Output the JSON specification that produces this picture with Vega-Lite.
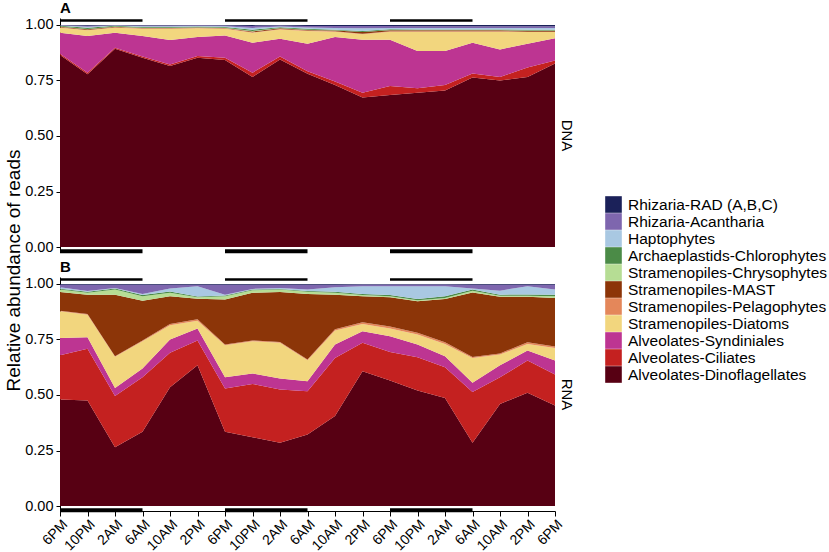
{
  "$schema": "https://vega.github.io/schema/vega-lite/v6.json",
  "padding": {"left": 4, "top": 0, "right": 2, "bottom": 0},
  "spacing": 25,
  "bounds": "flush",
  "config": {
    "font": "Liberation Sans",
    "view": {"stroke": null},
    "axis": {"grid": false, "labelColor": "black", "labelFontSize": 14.5, "labelPadding": 3, "tickColor": "black", "domainColor": "black", "titleColor": "black", "titleFontWeight": "normal", "titleFontSize": 19, "titlePadding": 1, "tickSize": 4},
    "axisX": {"labelOverlap": false},
    "title": {"anchor": "start", "frame": "group", "fontSize": 15, "fontWeight": "bold", "color": "black", "offset": 1},
    "legend": {"title": null, "orient": "none", "legendX": 545, "legendY": 178, "symbolType": "square", "symbolSize": 276, "symbolStrokeWidth": 0, "symbolOpacity": 1, "labelFontSize": 15.5, "labelColor": "black", "labelLimit": 0, "rowPadding": 0, "labelOffset": 6}
  },
  "datasets": {
    "nights": [{"start": 0, "end": 12}, {"start": 24, "end": 36}, {"start": 48, "end": 60}],
    "groups": [
      {"group": "Alveolates-Dinoflagellates", "rank": 1},
      {"group": "Alveolates-Ciliates", "rank": 2},
      {"group": "Alveolates-Syndiniales", "rank": 3},
      {"group": "Stramenopiles-Diatoms", "rank": 4},
      {"group": "Stramenopiles-Pelagophytes", "rank": 5},
      {"group": "Stramenopiles-MAST", "rank": 6},
      {"group": "Stramenopiles-Chrysophytes", "rank": 7},
      {"group": "Archaeplastids-Chlorophytes", "rank": 8},
      {"group": "Haptophytes", "rank": 9},
      {"group": "Rhizaria-Acantharia", "rank": 10},
      {"group": "Rhizaria-RAD (A,B,C)", "rank": 11}
    ],
    "reads": [
      {"type":"DNA","hour":0,"group":"Alveolates-Dinoflagellates","share":0.865},{"type":"DNA","hour":0,"group":"Alveolates-Ciliates","share":0.005},{"type":"DNA","hour":0,"group":"Alveolates-Syndiniales","share":0.095},{"type":"DNA","hour":0,"group":"Stramenopiles-Diatoms","share":0.023},{"type":"DNA","hour":0,"group":"Stramenopiles-Pelagophytes","share":0.002},{"type":"DNA","hour":0,"group":"Stramenopiles-MAST","share":0.002},{"type":"DNA","hour":0,"group":"Stramenopiles-Chrysophytes","share":0.001},{"type":"DNA","hour":0,"group":"Archaeplastids-Chlorophytes","share":0.004},{"type":"DNA","hour":0,"group":"Haptophytes","share":0.001},{"type":"DNA","hour":0,"group":"Rhizaria-Acantharia","share":0.001},{"type":"DNA","hour":0,"group":"Rhizaria-RAD (A,B,C)","share":0.001},
      {"type":"DNA","hour":4,"group":"Alveolates-Dinoflagellates","share":0.778},{"type":"DNA","hour":4,"group":"Alveolates-Ciliates","share":0.007},{"type":"DNA","hour":4,"group":"Alveolates-Syndiniales","share":0.165},{"type":"DNA","hour":4,"group":"Stramenopiles-Diatoms","share":0.026},{"type":"DNA","hour":4,"group":"Stramenopiles-Pelagophytes","share":0.002},{"type":"DNA","hour":4,"group":"Stramenopiles-MAST","share":0.003},{"type":"DNA","hour":4,"group":"Stramenopiles-Chrysophytes","share":0.001},{"type":"DNA","hour":4,"group":"Archaeplastids-Chlorophytes","share":0.006},{"type":"DNA","hour":4,"group":"Haptophytes","share":0.004},{"type":"DNA","hour":4,"group":"Rhizaria-Acantharia","share":0.005},{"type":"DNA","hour":4,"group":"Rhizaria-RAD (A,B,C)","share":0.003},
      {"type":"DNA","hour":8,"group":"Alveolates-Dinoflagellates","share":0.893},{"type":"DNA","hour":8,"group":"Alveolates-Ciliates","share":0.004},{"type":"DNA","hour":8,"group":"Alveolates-Syndiniales","share":0.068},{"type":"DNA","hour":8,"group":"Stramenopiles-Diatoms","share":0.023},{"type":"DNA","hour":8,"group":"Stramenopiles-Pelagophytes","share":0.002},{"type":"DNA","hour":8,"group":"Stramenopiles-MAST","share":0.002},{"type":"DNA","hour":8,"group":"Stramenopiles-Chrysophytes","share":0.001},{"type":"DNA","hour":8,"group":"Archaeplastids-Chlorophytes","share":0.004},{"type":"DNA","hour":8,"group":"Haptophytes","share":0.001},{"type":"DNA","hour":8,"group":"Rhizaria-Acantharia","share":0.001},{"type":"DNA","hour":8,"group":"Rhizaria-RAD (A,B,C)","share":0.001},
      {"type":"DNA","hour":12,"group":"Alveolates-Dinoflagellates","share":0.853},{"type":"DNA","hour":12,"group":"Alveolates-Ciliates","share":0.005},{"type":"DNA","hour":12,"group":"Alveolates-Syndiniales","share":0.092},{"type":"DNA","hour":12,"group":"Stramenopiles-Diatoms","share":0.033},{"type":"DNA","hour":12,"group":"Stramenopiles-Pelagophytes","share":0.002},{"type":"DNA","hour":12,"group":"Stramenopiles-MAST","share":0.002},{"type":"DNA","hour":12,"group":"Stramenopiles-Chrysophytes","share":0.001},{"type":"DNA","hour":12,"group":"Archaeplastids-Chlorophytes","share":0.003},{"type":"DNA","hour":12,"group":"Haptophytes","share":0.003},{"type":"DNA","hour":12,"group":"Rhizaria-Acantharia","share":0.004},{"type":"DNA","hour":12,"group":"Rhizaria-RAD (A,B,C)","share":0.002},
      {"type":"DNA","hour":16,"group":"Alveolates-Dinoflagellates","share":0.815},{"type":"DNA","hour":16,"group":"Alveolates-Ciliates","share":0.007},{"type":"DNA","hour":16,"group":"Alveolates-Syndiniales","share":0.110},{"type":"DNA","hour":16,"group":"Stramenopiles-Diatoms","share":0.051},{"type":"DNA","hour":16,"group":"Stramenopiles-Pelagophytes","share":0.002},{"type":"DNA","hour":16,"group":"Stramenopiles-MAST","share":0.002},{"type":"DNA","hour":16,"group":"Stramenopiles-Chrysophytes","share":0.001},{"type":"DNA","hour":16,"group":"Archaeplastids-Chlorophytes","share":0.003},{"type":"DNA","hour":16,"group":"Haptophytes","share":0.003},{"type":"DNA","hour":16,"group":"Rhizaria-Acantharia","share":0.004},{"type":"DNA","hour":16,"group":"Rhizaria-RAD (A,B,C)","share":0.002},
      {"type":"DNA","hour":20,"group":"Alveolates-Dinoflagellates","share":0.853},{"type":"DNA","hour":20,"group":"Alveolates-Ciliates","share":0.007},{"type":"DNA","hour":20,"group":"Alveolates-Syndiniales","share":0.086},{"type":"DNA","hour":20,"group":"Stramenopiles-Diatoms","share":0.039},{"type":"DNA","hour":20,"group":"Stramenopiles-Pelagophytes","share":0.002},{"type":"DNA","hour":20,"group":"Stramenopiles-MAST","share":0.002},{"type":"DNA","hour":20,"group":"Stramenopiles-Chrysophytes","share":0.001},{"type":"DNA","hour":20,"group":"Archaeplastids-Chlorophytes","share":0.003},{"type":"DNA","hour":20,"group":"Haptophytes","share":0.003},{"type":"DNA","hour":20,"group":"Rhizaria-Acantharia","share":0.003},{"type":"DNA","hour":20,"group":"Rhizaria-RAD (A,B,C)","share":0.001},
      {"type":"DNA","hour":24,"group":"Alveolates-Dinoflagellates","share":0.842},{"type":"DNA","hour":24,"group":"Alveolates-Ciliates","share":0.010},{"type":"DNA","hour":24,"group":"Alveolates-Syndiniales","share":0.101},{"type":"DNA","hour":24,"group":"Stramenopiles-Diatoms","share":0.030},{"type":"DNA","hour":24,"group":"Stramenopiles-Pelagophytes","share":0.002},{"type":"DNA","hour":24,"group":"Stramenopiles-MAST","share":0.002},{"type":"DNA","hour":24,"group":"Stramenopiles-Chrysophytes","share":0.001},{"type":"DNA","hour":24,"group":"Archaeplastids-Chlorophytes","share":0.003},{"type":"DNA","hour":24,"group":"Haptophytes","share":0.003},{"type":"DNA","hour":24,"group":"Rhizaria-Acantharia","share":0.004},{"type":"DNA","hour":24,"group":"Rhizaria-RAD (A,B,C)","share":0.002},
      {"type":"DNA","hour":28,"group":"Alveolates-Dinoflagellates","share":0.766},{"type":"DNA","hour":28,"group":"Alveolates-Ciliates","share":0.019},{"type":"DNA","hour":28,"group":"Alveolates-Syndiniales","share":0.135},{"type":"DNA","hour":28,"group":"Stramenopiles-Diatoms","share":0.045},{"type":"DNA","hour":28,"group":"Stramenopiles-Pelagophytes","share":0.002},{"type":"DNA","hour":28,"group":"Stramenopiles-MAST","share":0.004},{"type":"DNA","hour":28,"group":"Stramenopiles-Chrysophytes","share":0.002},{"type":"DNA","hour":28,"group":"Archaeplastids-Chlorophytes","share":0.006},{"type":"DNA","hour":28,"group":"Haptophytes","share":0.008},{"type":"DNA","hour":28,"group":"Rhizaria-Acantharia","share":0.009},{"type":"DNA","hour":28,"group":"Rhizaria-RAD (A,B,C)","share":0.004},
      {"type":"DNA","hour":32,"group":"Alveolates-Dinoflagellates","share":0.845},{"type":"DNA","hour":32,"group":"Alveolates-Ciliates","share":0.013},{"type":"DNA","hour":32,"group":"Alveolates-Syndiniales","share":0.080},{"type":"DNA","hour":32,"group":"Stramenopiles-Diatoms","share":0.042},{"type":"DNA","hour":32,"group":"Stramenopiles-Pelagophytes","share":0.002},{"type":"DNA","hour":32,"group":"Stramenopiles-MAST","share":0.003},{"type":"DNA","hour":32,"group":"Stramenopiles-Chrysophytes","share":0.001},{"type":"DNA","hour":32,"group":"Archaeplastids-Chlorophytes","share":0.004},{"type":"DNA","hour":32,"group":"Haptophytes","share":0.003},{"type":"DNA","hour":32,"group":"Rhizaria-Acantharia","share":0.005},{"type":"DNA","hour":32,"group":"Rhizaria-RAD (A,B,C)","share":0.002},
      {"type":"DNA","hour":36,"group":"Alveolates-Dinoflagellates","share":0.780},{"type":"DNA","hour":36,"group":"Alveolates-Ciliates","share":0.012},{"type":"DNA","hour":36,"group":"Alveolates-Syndiniales","share":0.124},{"type":"DNA","hour":36,"group":"Stramenopiles-Diatoms","share":0.057},{"type":"DNA","hour":36,"group":"Stramenopiles-Pelagophytes","share":0.002},{"type":"DNA","hour":36,"group":"Stramenopiles-MAST","share":0.003},{"type":"DNA","hour":36,"group":"Stramenopiles-Chrysophytes","share":0.001},{"type":"DNA","hour":36,"group":"Archaeplastids-Chlorophytes","share":0.004},{"type":"DNA","hour":36,"group":"Haptophytes","share":0.006},{"type":"DNA","hour":36,"group":"Rhizaria-Acantharia","share":0.007},{"type":"DNA","hour":36,"group":"Rhizaria-RAD (A,B,C)","share":0.004},
      {"type":"DNA","hour":40,"group":"Alveolates-Dinoflagellates","share":0.730},{"type":"DNA","hour":40,"group":"Alveolates-Ciliates","share":0.015},{"type":"DNA","hour":40,"group":"Alveolates-Syndiniales","share":0.201},{"type":"DNA","hour":40,"group":"Stramenopiles-Diatoms","share":0.024},{"type":"DNA","hour":40,"group":"Stramenopiles-Pelagophytes","share":0.002},{"type":"DNA","hour":40,"group":"Stramenopiles-MAST","share":0.003},{"type":"DNA","hour":40,"group":"Stramenopiles-Chrysophytes","share":0.001},{"type":"DNA","hour":40,"group":"Archaeplastids-Chlorophytes","share":0.003},{"type":"DNA","hour":40,"group":"Haptophytes","share":0.008},{"type":"DNA","hour":40,"group":"Rhizaria-Acantharia","share":0.009},{"type":"DNA","hour":40,"group":"Rhizaria-RAD (A,B,C)","share":0.004},
      {"type":"DNA","hour":44,"group":"Alveolates-Dinoflagellates","share":0.673},{"type":"DNA","hour":44,"group":"Alveolates-Ciliates","share":0.022},{"type":"DNA","hour":44,"group":"Alveolates-Syndiniales","share":0.239},{"type":"DNA","hour":44,"group":"Stramenopiles-Diatoms","share":0.024},{"type":"DNA","hour":44,"group":"Stramenopiles-Pelagophytes","share":0.002},{"type":"DNA","hour":44,"group":"Stramenopiles-MAST","share":0.008},{"type":"DNA","hour":44,"group":"Stramenopiles-Chrysophytes","share":0.001},{"type":"DNA","hour":44,"group":"Archaeplastids-Chlorophytes","share":0.004},{"type":"DNA","hour":44,"group":"Haptophytes","share":0.012},{"type":"DNA","hour":44,"group":"Rhizaria-Acantharia","share":0.010},{"type":"DNA","hour":44,"group":"Rhizaria-RAD (A,B,C)","share":0.005},
      {"type":"DNA","hour":48,"group":"Alveolates-Dinoflagellates","share":0.685},{"type":"DNA","hour":48,"group":"Alveolates-Ciliates","share":0.040},{"type":"DNA","hour":48,"group":"Alveolates-Syndiniales","share":0.209},{"type":"DNA","hour":48,"group":"Stramenopiles-Diatoms","share":0.036},{"type":"DNA","hour":48,"group":"Stramenopiles-Pelagophytes","share":0.002},{"type":"DNA","hour":48,"group":"Stramenopiles-MAST","share":0.004},{"type":"DNA","hour":48,"group":"Stramenopiles-Chrysophytes","share":0.001},{"type":"DNA","hour":48,"group":"Archaeplastids-Chlorophytes","share":0.004},{"type":"DNA","hour":48,"group":"Haptophytes","share":0.006},{"type":"DNA","hour":48,"group":"Rhizaria-Acantharia","share":0.008},{"type":"DNA","hour":48,"group":"Rhizaria-RAD (A,B,C)","share":0.005},
      {"type":"DNA","hour":52,"group":"Alveolates-Dinoflagellates","share":0.695},{"type":"DNA","hour":52,"group":"Alveolates-Ciliates","share":0.020},{"type":"DNA","hour":52,"group":"Alveolates-Syndiniales","share":0.168},{"type":"DNA","hour":52,"group":"Stramenopiles-Diatoms","share":0.087},{"type":"DNA","hour":52,"group":"Stramenopiles-Pelagophytes","share":0.002},{"type":"DNA","hour":52,"group":"Stramenopiles-MAST","share":0.004},{"type":"DNA","hour":52,"group":"Stramenopiles-Chrysophytes","share":0.001},{"type":"DNA","hour":52,"group":"Archaeplastids-Chlorophytes","share":0.003},{"type":"DNA","hour":52,"group":"Haptophytes","share":0.006},{"type":"DNA","hour":52,"group":"Rhizaria-Acantharia","share":0.008},{"type":"DNA","hour":52,"group":"Rhizaria-RAD (A,B,C)","share":0.006},
      {"type":"DNA","hour":56,"group":"Alveolates-Dinoflagellates","share":0.705},{"type":"DNA","hour":56,"group":"Alveolates-Ciliates","share":0.025},{"type":"DNA","hour":56,"group":"Alveolates-Syndiniales","share":0.153},{"type":"DNA","hour":56,"group":"Stramenopiles-Diatoms","share":0.087},{"type":"DNA","hour":56,"group":"Stramenopiles-Pelagophytes","share":0.002},{"type":"DNA","hour":56,"group":"Stramenopiles-MAST","share":0.004},{"type":"DNA","hour":56,"group":"Stramenopiles-Chrysophytes","share":0.001},{"type":"DNA","hour":56,"group":"Archaeplastids-Chlorophytes","share":0.003},{"type":"DNA","hour":56,"group":"Haptophytes","share":0.006},{"type":"DNA","hour":56,"group":"Rhizaria-Acantharia","share":0.008},{"type":"DNA","hour":56,"group":"Rhizaria-RAD (A,B,C)","share":0.006},
      {"type":"DNA","hour":60,"group":"Alveolates-Dinoflagellates","share":0.763},{"type":"DNA","hour":60,"group":"Alveolates-Ciliates","share":0.018},{"type":"DNA","hour":60,"group":"Alveolates-Syndiniales","share":0.139},{"type":"DNA","hour":60,"group":"Stramenopiles-Diatoms","share":0.050},{"type":"DNA","hour":60,"group":"Stramenopiles-Pelagophytes","share":0.002},{"type":"DNA","hour":60,"group":"Stramenopiles-MAST","share":0.004},{"type":"DNA","hour":60,"group":"Stramenopiles-Chrysophytes","share":0.001},{"type":"DNA","hour":60,"group":"Archaeplastids-Chlorophytes","share":0.003},{"type":"DNA","hour":60,"group":"Haptophytes","share":0.006},{"type":"DNA","hour":60,"group":"Rhizaria-Acantharia","share":0.008},{"type":"DNA","hour":60,"group":"Rhizaria-RAD (A,B,C)","share":0.006},
      {"type":"DNA","hour":64,"group":"Alveolates-Dinoflagellates","share":0.750},{"type":"DNA","hour":64,"group":"Alveolates-Ciliates","share":0.016},{"type":"DNA","hour":64,"group":"Alveolates-Syndiniales","share":0.124},{"type":"DNA","hour":64,"group":"Stramenopiles-Diatoms","share":0.080},{"type":"DNA","hour":64,"group":"Stramenopiles-Pelagophytes","share":0.002},{"type":"DNA","hour":64,"group":"Stramenopiles-MAST","share":0.004},{"type":"DNA","hour":64,"group":"Stramenopiles-Chrysophytes","share":0.001},{"type":"DNA","hour":64,"group":"Archaeplastids-Chlorophytes","share":0.003},{"type":"DNA","hour":64,"group":"Haptophytes","share":0.006},{"type":"DNA","hour":64,"group":"Rhizaria-Acantharia","share":0.008},{"type":"DNA","hour":64,"group":"Rhizaria-RAD (A,B,C)","share":0.006},
      {"type":"DNA","hour":68,"group":"Alveolates-Dinoflagellates","share":0.766},{"type":"DNA","hour":68,"group":"Alveolates-Ciliates","share":0.042},{"type":"DNA","hour":68,"group":"Alveolates-Syndiniales","share":0.108},{"type":"DNA","hour":68,"group":"Stramenopiles-Diatoms","share":0.052},{"type":"DNA","hour":68,"group":"Stramenopiles-Pelagophytes","share":0.002},{"type":"DNA","hour":68,"group":"Stramenopiles-MAST","share":0.004},{"type":"DNA","hour":68,"group":"Stramenopiles-Chrysophytes","share":0.001},{"type":"DNA","hour":68,"group":"Archaeplastids-Chlorophytes","share":0.004},{"type":"DNA","hour":68,"group":"Haptophytes","share":0.007},{"type":"DNA","hour":68,"group":"Rhizaria-Acantharia","share":0.008},{"type":"DNA","hour":68,"group":"Rhizaria-RAD (A,B,C)","share":0.006},
      {"type":"DNA","hour":72,"group":"Alveolates-Dinoflagellates","share":0.826},{"type":"DNA","hour":72,"group":"Alveolates-Ciliates","share":0.014},{"type":"DNA","hour":72,"group":"Alveolates-Syndiniales","share":0.100},{"type":"DNA","hour":72,"group":"Stramenopiles-Diatoms","share":0.028},{"type":"DNA","hour":72,"group":"Stramenopiles-Pelagophytes","share":0.002},{"type":"DNA","hour":72,"group":"Stramenopiles-MAST","share":0.004},{"type":"DNA","hour":72,"group":"Stramenopiles-Chrysophytes","share":0.001},{"type":"DNA","hour":72,"group":"Archaeplastids-Chlorophytes","share":0.004},{"type":"DNA","hour":72,"group":"Haptophytes","share":0.007},{"type":"DNA","hour":72,"group":"Rhizaria-Acantharia","share":0.008},{"type":"DNA","hour":72,"group":"Rhizaria-RAD (A,B,C)","share":0.006},
      {"type":"RNA","hour":0,"group":"Alveolates-Dinoflagellates","share":0.480},{"type":"RNA","hour":0,"group":"Alveolates-Ciliates","share":0.199},{"type":"RNA","hour":0,"group":"Alveolates-Syndiniales","share":0.078},{"type":"RNA","hour":0,"group":"Stramenopiles-Diatoms","share":0.120},{"type":"RNA","hour":0,"group":"Stramenopiles-Pelagophytes","share":0.003},{"type":"RNA","hour":0,"group":"Stramenopiles-MAST","share":0.084},{"type":"RNA","hour":0,"group":"Stramenopiles-Chrysophytes","share":0.011},{"type":"RNA","hour":0,"group":"Archaeplastids-Chlorophytes","share":0.004},{"type":"RNA","hour":0,"group":"Haptophytes","share":0.006},{"type":"RNA","hour":0,"group":"Rhizaria-Acantharia","share":0.012},{"type":"RNA","hour":0,"group":"Rhizaria-RAD (A,B,C)","share":0.003},
      {"type":"RNA","hour":4,"group":"Alveolates-Dinoflagellates","share":0.475},{"type":"RNA","hour":4,"group":"Alveolates-Ciliates","share":0.233},{"type":"RNA","hour":4,"group":"Alveolates-Syndiniales","share":0.052},{"type":"RNA","hour":4,"group":"Stramenopiles-Diatoms","share":0.102},{"type":"RNA","hour":4,"group":"Stramenopiles-Pelagophytes","share":0.003},{"type":"RNA","hour":4,"group":"Stramenopiles-MAST","share":0.087},{"type":"RNA","hour":4,"group":"Stramenopiles-Chrysophytes","share":0.008},{"type":"RNA","hour":4,"group":"Archaeplastids-Chlorophytes","share":0.005},{"type":"RNA","hour":4,"group":"Haptophytes","share":0.003},{"type":"RNA","hour":4,"group":"Rhizaria-Acantharia","share":0.029},{"type":"RNA","hour":4,"group":"Rhizaria-RAD (A,B,C)","share":0.003},
      {"type":"RNA","hour":8,"group":"Alveolates-Dinoflagellates","share":0.265},{"type":"RNA","hour":8,"group":"Alveolates-Ciliates","share":0.230},{"type":"RNA","hour":8,"group":"Alveolates-Syndiniales","share":0.037},{"type":"RNA","hour":8,"group":"Stramenopiles-Diatoms","share":0.140},{"type":"RNA","hour":8,"group":"Stramenopiles-Pelagophytes","share":0.003},{"type":"RNA","hour":8,"group":"Stramenopiles-MAST","share":0.277},{"type":"RNA","hour":8,"group":"Stramenopiles-Chrysophytes","share":0.023},{"type":"RNA","hour":8,"group":"Archaeplastids-Chlorophytes","share":0.005},{"type":"RNA","hour":8,"group":"Haptophytes","share":0.002},{"type":"RNA","hour":8,"group":"Rhizaria-Acantharia","share":0.015},{"type":"RNA","hour":8,"group":"Rhizaria-RAD (A,B,C)","share":0.003},
      {"type":"RNA","hour":12,"group":"Alveolates-Dinoflagellates","share":0.334},{"type":"RNA","hour":12,"group":"Alveolates-Ciliates","share":0.246},{"type":"RNA","hour":12,"group":"Alveolates-Syndiniales","share":0.039},{"type":"RNA","hour":12,"group":"Stramenopiles-Diatoms","share":0.123},{"type":"RNA","hour":12,"group":"Stramenopiles-Pelagophytes","share":0.004},{"type":"RNA","hour":12,"group":"Stramenopiles-MAST","share":0.179},{"type":"RNA","hour":12,"group":"Stramenopiles-Chrysophytes","share":0.020},{"type":"RNA","hour":12,"group":"Archaeplastids-Chlorophytes","share":0.005},{"type":"RNA","hour":12,"group":"Haptophytes","share":0.005},{"type":"RNA","hour":12,"group":"Rhizaria-Acantharia","share":0.042},{"type":"RNA","hour":12,"group":"Rhizaria-RAD (A,B,C)","share":0.003},
      {"type":"RNA","hour":16,"group":"Alveolates-Dinoflagellates","share":0.535},{"type":"RNA","hour":16,"group":"Alveolates-Ciliates","share":0.155},{"type":"RNA","hour":16,"group":"Alveolates-Syndiniales","share":0.060},{"type":"RNA","hour":16,"group":"Stramenopiles-Diatoms","share":0.064},{"type":"RNA","hour":16,"group":"Stramenopiles-Pelagophytes","share":0.006},{"type":"RNA","hour":16,"group":"Stramenopiles-MAST","share":0.125},{"type":"RNA","hour":16,"group":"Stramenopiles-Chrysophytes","share":0.015},{"type":"RNA","hour":16,"group":"Archaeplastids-Chlorophytes","share":0.006},{"type":"RNA","hour":16,"group":"Haptophytes","share":0.014},{"type":"RNA","hour":16,"group":"Rhizaria-Acantharia","share":0.017},{"type":"RNA","hour":16,"group":"Rhizaria-RAD (A,B,C)","share":0.003},
      {"type":"RNA","hour":20,"group":"Alveolates-Dinoflagellates","share":0.634},{"type":"RNA","hour":20,"group":"Alveolates-Ciliates","share":0.111},{"type":"RNA","hour":20,"group":"Alveolates-Syndiniales","share":0.055},{"type":"RNA","hour":20,"group":"Stramenopiles-Diatoms","share":0.035},{"type":"RNA","hour":20,"group":"Stramenopiles-Pelagophytes","share":0.006},{"type":"RNA","hour":20,"group":"Stramenopiles-MAST","share":0.093},{"type":"RNA","hour":20,"group":"Stramenopiles-Chrysophytes","share":0.006},{"type":"RNA","hour":20,"group":"Archaeplastids-Chlorophytes","share":0.004},{"type":"RNA","hour":20,"group":"Haptophytes","share":0.046},{"type":"RNA","hour":20,"group":"Rhizaria-Acantharia","share":0.007},{"type":"RNA","hour":20,"group":"Rhizaria-RAD (A,B,C)","share":0.003},
      {"type":"RNA","hour":24,"group":"Alveolates-Dinoflagellates","share":0.334},{"type":"RNA","hour":24,"group":"Alveolates-Ciliates","share":0.195},{"type":"RNA","hour":24,"group":"Alveolates-Syndiniales","share":0.051},{"type":"RNA","hour":24,"group":"Stramenopiles-Diatoms","share":0.144},{"type":"RNA","hour":24,"group":"Stramenopiles-Pelagophytes","share":0.004},{"type":"RNA","hour":24,"group":"Stramenopiles-MAST","share":0.202},{"type":"RNA","hour":24,"group":"Stramenopiles-Chrysophytes","share":0.015},{"type":"RNA","hour":24,"group":"Archaeplastids-Chlorophytes","share":0.003},{"type":"RNA","hour":24,"group":"Haptophytes","share":0.004},{"type":"RNA","hour":24,"group":"Rhizaria-Acantharia","share":0.045},{"type":"RNA","hour":24,"group":"Rhizaria-RAD (A,B,C)","share":0.003},
      {"type":"RNA","hour":28,"group":"Alveolates-Dinoflagellates","share":0.310},{"type":"RNA","hour":28,"group":"Alveolates-Ciliates","share":0.240},{"type":"RNA","hour":28,"group":"Alveolates-Syndiniales","share":0.047},{"type":"RNA","hour":28,"group":"Stramenopiles-Diatoms","share":0.145},{"type":"RNA","hour":28,"group":"Stramenopiles-Pelagophytes","share":0.004},{"type":"RNA","hour":28,"group":"Stramenopiles-MAST","share":0.214},{"type":"RNA","hour":28,"group":"Stramenopiles-Chrysophytes","share":0.012},{"type":"RNA","hour":28,"group":"Archaeplastids-Chlorophytes","share":0.003},{"type":"RNA","hour":28,"group":"Haptophytes","share":0.003},{"type":"RNA","hour":28,"group":"Rhizaria-Acantharia","share":0.019},{"type":"RNA","hour":28,"group":"Rhizaria-RAD (A,B,C)","share":0.003},
      {"type":"RNA","hour":32,"group":"Alveolates-Dinoflagellates","share":0.285},{"type":"RNA","hour":32,"group":"Alveolates-Ciliates","share":0.240},{"type":"RNA","hour":32,"group":"Alveolates-Syndiniales","share":0.049},{"type":"RNA","hour":32,"group":"Stramenopiles-Diatoms","share":0.161},{"type":"RNA","hour":32,"group":"Stramenopiles-Pelagophytes","share":0.004},{"type":"RNA","hour":32,"group":"Stramenopiles-MAST","share":0.225},{"type":"RNA","hour":32,"group":"Stramenopiles-Chrysophytes","share":0.011},{"type":"RNA","hour":32,"group":"Archaeplastids-Chlorophytes","share":0.003},{"type":"RNA","hour":32,"group":"Haptophytes","share":0.004},{"type":"RNA","hour":32,"group":"Rhizaria-Acantharia","share":0.015},{"type":"RNA","hour":32,"group":"Rhizaria-RAD (A,B,C)","share":0.003},
      {"type":"RNA","hour":36,"group":"Alveolates-Dinoflagellates","share":0.322},{"type":"RNA","hour":36,"group":"Alveolates-Ciliates","share":0.195},{"type":"RNA","hour":36,"group":"Alveolates-Syndiniales","share":0.045},{"type":"RNA","hour":36,"group":"Stramenopiles-Diatoms","share":0.094},{"type":"RNA","hour":36,"group":"Stramenopiles-Pelagophytes","share":0.004},{"type":"RNA","hour":36,"group":"Stramenopiles-MAST","share":0.295},{"type":"RNA","hour":36,"group":"Stramenopiles-Chrysophytes","share":0.010},{"type":"RNA","hour":36,"group":"Archaeplastids-Chlorophytes","share":0.003},{"type":"RNA","hour":36,"group":"Haptophytes","share":0.007},{"type":"RNA","hour":36,"group":"Rhizaria-Acantharia","share":0.022},{"type":"RNA","hour":36,"group":"Rhizaria-RAD (A,B,C)","share":0.003},
      {"type":"RNA","hour":40,"group":"Alveolates-Dinoflagellates","share":0.405},{"type":"RNA","hour":40,"group":"Alveolates-Ciliates","share":0.262},{"type":"RNA","hour":40,"group":"Alveolates-Syndiniales","share":0.060},{"type":"RNA","hour":40,"group":"Stramenopiles-Diatoms","share":0.063},{"type":"RNA","hour":40,"group":"Stramenopiles-Pelagophytes","share":0.006},{"type":"RNA","hour":40,"group":"Stramenopiles-MAST","share":0.156},{"type":"RNA","hour":40,"group":"Stramenopiles-Chrysophytes","share":0.008},{"type":"RNA","hour":40,"group":"Archaeplastids-Chlorophytes","share":0.005},{"type":"RNA","hour":40,"group":"Haptophytes","share":0.020},{"type":"RNA","hour":40,"group":"Rhizaria-Acantharia","share":0.012},{"type":"RNA","hour":40,"group":"Rhizaria-RAD (A,B,C)","share":0.003},
      {"type":"RNA","hour":44,"group":"Alveolates-Dinoflagellates","share":0.607},{"type":"RNA","hour":44,"group":"Alveolates-Ciliates","share":0.128},{"type":"RNA","hour":44,"group":"Alveolates-Syndiniales","share":0.052},{"type":"RNA","hour":44,"group":"Stramenopiles-Diatoms","share":0.033},{"type":"RNA","hour":44,"group":"Stramenopiles-Pelagophytes","share":0.008},{"type":"RNA","hour":44,"group":"Stramenopiles-MAST","share":0.117},{"type":"RNA","hour":44,"group":"Stramenopiles-Chrysophytes","share":0.005},{"type":"RNA","hour":44,"group":"Archaeplastids-Chlorophytes","share":0.005},{"type":"RNA","hour":44,"group":"Haptophytes","share":0.035},{"type":"RNA","hour":44,"group":"Rhizaria-Acantharia","share":0.008},{"type":"RNA","hour":44,"group":"Rhizaria-RAD (A,B,C)","share":0.002},
      {"type":"RNA","hour":48,"group":"Alveolates-Dinoflagellates","share":0.565},{"type":"RNA","hour":48,"group":"Alveolates-Ciliates","share":0.129},{"type":"RNA","hour":48,"group":"Alveolates-Syndiniales","share":0.071},{"type":"RNA","hour":48,"group":"Stramenopiles-Diatoms","share":0.035},{"type":"RNA","hour":48,"group":"Stramenopiles-Pelagophytes","share":0.008},{"type":"RNA","hour":48,"group":"Stramenopiles-MAST","share":0.132},{"type":"RNA","hour":48,"group":"Stramenopiles-Chrysophytes","share":0.005},{"type":"RNA","hour":48,"group":"Archaeplastids-Chlorophytes","share":0.005},{"type":"RNA","hour":48,"group":"Haptophytes","share":0.040},{"type":"RNA","hour":48,"group":"Rhizaria-Acantharia","share":0.008},{"type":"RNA","hour":48,"group":"Rhizaria-RAD (A,B,C)","share":0.002},
      {"type":"RNA","hour":52,"group":"Alveolates-Dinoflagellates","share":0.520},{"type":"RNA","hour":52,"group":"Alveolates-Ciliates","share":0.150},{"type":"RNA","hour":52,"group":"Alveolates-Syndiniales","share":0.057},{"type":"RNA","hour":52,"group":"Stramenopiles-Diatoms","share":0.045},{"type":"RNA","hour":52,"group":"Stramenopiles-Pelagophytes","share":0.008},{"type":"RNA","hour":52,"group":"Stramenopiles-MAST","share":0.142},{"type":"RNA","hour":52,"group":"Stramenopiles-Chrysophytes","share":0.005},{"type":"RNA","hour":52,"group":"Archaeplastids-Chlorophytes","share":0.005},{"type":"RNA","hour":52,"group":"Haptophytes","share":0.058},{"type":"RNA","hour":52,"group":"Rhizaria-Acantharia","share":0.008},{"type":"RNA","hour":52,"group":"Rhizaria-RAD (A,B,C)","share":0.002},
      {"type":"RNA","hour":56,"group":"Alveolates-Dinoflagellates","share":0.487},{"type":"RNA","hour":56,"group":"Alveolates-Ciliates","share":0.138},{"type":"RNA","hour":56,"group":"Alveolates-Syndiniales","share":0.050},{"type":"RNA","hour":56,"group":"Stramenopiles-Diatoms","share":0.055},{"type":"RNA","hour":56,"group":"Stramenopiles-Pelagophytes","share":0.008},{"type":"RNA","hour":56,"group":"Stramenopiles-MAST","share":0.194},{"type":"RNA","hour":56,"group":"Stramenopiles-Chrysophytes","share":0.005},{"type":"RNA","hour":56,"group":"Archaeplastids-Chlorophytes","share":0.008},{"type":"RNA","hour":56,"group":"Haptophytes","share":0.045},{"type":"RNA","hour":56,"group":"Rhizaria-Acantharia","share":0.008},{"type":"RNA","hour":56,"group":"Rhizaria-RAD (A,B,C)","share":0.002},
      {"type":"RNA","hour":60,"group":"Alveolates-Dinoflagellates","share":0.285},{"type":"RNA","hour":60,"group":"Alveolates-Ciliates","share":0.228},{"type":"RNA","hour":60,"group":"Alveolates-Syndiniales","share":0.042},{"type":"RNA","hour":60,"group":"Stramenopiles-Diatoms","share":0.112},{"type":"RNA","hour":60,"group":"Stramenopiles-Pelagophytes","share":0.004},{"type":"RNA","hour":60,"group":"Stramenopiles-MAST","share":0.291},{"type":"RNA","hour":60,"group":"Stramenopiles-Chrysophytes","share":0.008},{"type":"RNA","hour":60,"group":"Archaeplastids-Chlorophytes","share":0.005},{"type":"RNA","hour":60,"group":"Haptophytes","share":0.005},{"type":"RNA","hour":60,"group":"Rhizaria-Acantharia","share":0.017},{"type":"RNA","hour":60,"group":"Rhizaria-RAD (A,B,C)","share":0.003},
      {"type":"RNA","hour":64,"group":"Alveolates-Dinoflagellates","share":0.460},{"type":"RNA","hour":64,"group":"Alveolates-Ciliates","share":0.120},{"type":"RNA","hour":64,"group":"Alveolates-Syndiniales","share":0.054},{"type":"RNA","hour":64,"group":"Stramenopiles-Diatoms","share":0.048},{"type":"RNA","hour":64,"group":"Stramenopiles-Pelagophytes","share":0.005},{"type":"RNA","hour":64,"group":"Stramenopiles-MAST","share":0.255},{"type":"RNA","hour":64,"group":"Stramenopiles-Chrysophytes","share":0.005},{"type":"RNA","hour":64,"group":"Archaeplastids-Chlorophytes","share":0.005},{"type":"RNA","hour":64,"group":"Haptophytes","share":0.018},{"type":"RNA","hour":64,"group":"Rhizaria-Acantharia","share":0.027},{"type":"RNA","hour":64,"group":"Rhizaria-RAD (A,B,C)","share":0.003},
      {"type":"RNA","hour":68,"group":"Alveolates-Dinoflagellates","share":0.510},{"type":"RNA","hour":68,"group":"Alveolates-Ciliates","share":0.145},{"type":"RNA","hour":68,"group":"Alveolates-Syndiniales","share":0.045},{"type":"RNA","hour":68,"group":"Stramenopiles-Diatoms","share":0.030},{"type":"RNA","hour":68,"group":"Stramenopiles-Pelagophytes","share":0.008},{"type":"RNA","hour":68,"group":"Stramenopiles-MAST","share":0.204},{"type":"RNA","hour":68,"group":"Stramenopiles-Chrysophytes","share":0.005},{"type":"RNA","hour":68,"group":"Archaeplastids-Chlorophytes","share":0.006},{"type":"RNA","hour":68,"group":"Haptophytes","share":0.037},{"type":"RNA","hour":68,"group":"Rhizaria-Acantharia","share":0.007},{"type":"RNA","hour":68,"group":"Rhizaria-RAD (A,B,C)","share":0.003},
      {"type":"RNA","hour":72,"group":"Alveolates-Dinoflagellates","share":0.453},{"type":"RNA","hour":72,"group":"Alveolates-Ciliates","share":0.139},{"type":"RNA","hour":72,"group":"Alveolates-Syndiniales","share":0.063},{"type":"RNA","hour":72,"group":"Stramenopiles-Diatoms","share":0.057},{"type":"RNA","hour":72,"group":"Stramenopiles-Pelagophytes","share":0.006},{"type":"RNA","hour":72,"group":"Stramenopiles-MAST","share":0.219},{"type":"RNA","hour":72,"group":"Stramenopiles-Chrysophytes","share":0.008},{"type":"RNA","hour":72,"group":"Archaeplastids-Chlorophytes","share":0.007},{"type":"RNA","hour":72,"group":"Haptophytes","share":0.023},{"type":"RNA","hour":72,"group":"Rhizaria-Acantharia","share":0.022},{"type":"RNA","hour":72,"group":"Rhizaria-RAD (A,B,C)","share":0.003}
    ]
  },
  "vconcat": [
    {
      "title": "A",
      "width": 495,
      "height": 234,
      "layer": [
        {
          "data": {"name": "reads"},
          "transform": [
            {"filter": "datum.type === 'DNA'"},
            {"lookup": "group", "from": {"data": {"name": "groups"}, "key": "group", "fields": ["rank"]}}
          ],
          "mark": {"type": "area", "interpolate": "linear"},
          "encoding": {
            "x": {"field": "hour", "type": "quantitative", "scale": {"domain": [0, 72], "nice": false}, "axis": null},
            "y": {"field": "share", "type": "quantitative", "stack": "zero", "scale": {"domain": [-0.0225, 1.0315], "nice": false, "zero": false}, "axis": {"title": "Relative abundance of reads", "titleY": 252, "values": [0, 0.25, 0.5, 0.75, 1], "format": ".2f"}},
            "order": {"field": "rank", "type": "quantitative", "sort": "ascending"},
            "color": {
              "field": "group", "type": "nominal",
              "scale": {
                "domain": ["Rhizaria-RAD (A,B,C)", "Rhizaria-Acantharia", "Haptophytes", "Archaeplastids-Chlorophytes", "Stramenopiles-Chrysophytes", "Stramenopiles-MAST", "Stramenopiles-Pelagophytes", "Stramenopiles-Diatoms", "Alveolates-Syndiniales", "Alveolates-Ciliates", "Alveolates-Dinoflagellates"],
                "range": ["#1b2159", "#7e66ae", "#a9c8e2", "#4b8b47", "#b6dd94", "#8c3508", "#e4875a", "#f2d67e", "#bd3592", "#c42120", "#570013"]
              }
            }
          }
        },
        {
          "data": {"name": "nights"},
          "mark": {"type": "rule", "strokeWidth": 2.5, "color": "black"},
          "encoding": {
            "x": {"field": "start", "type": "quantitative", "axis": null},
            "x2": {"field": "end"},
            "y": {"datum": 1.02, "type": "quantitative", "axis": {"orient": "right", "title": "DNA", "labels": false, "ticks": false, "domain": false, "titleAngle": 90, "titlePadding": 3, "titleFontSize": 15}}
          }
        },
        {
          "data": {"name": "nights"},
          "mark": {"type": "rule", "strokeWidth": 4, "color": "black"},
          "encoding": {
            "x": {"field": "start", "type": "quantitative", "axis": null},
            "x2": {"field": "end"},
            "y": {"datum": -0.019, "type": "quantitative", "axis": null}
          }
        }
      ],
      "resolve": {"axis": {"y": "independent"}}
    },
    {
      "title": "B",
      "width": 495,
      "height": 234,
      "layer": [
        {
          "data": {"name": "reads"},
          "transform": [
            {"filter": "datum.type === 'RNA'"},
            {"lookup": "group", "from": {"data": {"name": "groups"}, "key": "group", "fields": ["rank"]}}
          ],
          "mark": {"type": "area", "interpolate": "linear"},
          "encoding": {
            "x": {"field": "hour", "type": "quantitative", "scale": {"domain": [0, 72], "nice": false}, "axis": {"title": null, "values": [0, 4, 8, 12, 16, 20, 24, 28, 32, 36, 40, 44, 48, 52, 56, 60, 64, 68, 72], "labelExpr": "['6PM','10PM','2AM','6AM','10AM','2PM'][(datum.value / 4) % 6]", "labelAngle": -45, "labelAlign": "right", "labelBaseline": "top", "labelOverlap": false, "labelFontSize": 14, "tickSize": 5, "labelPadding": 1}},
            "y": {"field": "share", "type": "quantitative", "stack": "zero", "scale": {"domain": [-0.0225, 1.0315], "nice": false, "zero": false}, "axis": {"title": null, "values": [0, 0.25, 0.5, 0.75, 1], "format": ".2f"}},
            "order": {"field": "rank", "type": "quantitative", "sort": "ascending"},
            "color": {
              "field": "group", "type": "nominal",
              "scale": {
                "domain": ["Rhizaria-RAD (A,B,C)", "Rhizaria-Acantharia", "Haptophytes", "Archaeplastids-Chlorophytes", "Stramenopiles-Chrysophytes", "Stramenopiles-MAST", "Stramenopiles-Pelagophytes", "Stramenopiles-Diatoms", "Alveolates-Syndiniales", "Alveolates-Ciliates", "Alveolates-Dinoflagellates"],
                "range": ["#1b2159", "#7e66ae", "#a9c8e2", "#4b8b47", "#b6dd94", "#8c3508", "#e4875a", "#f2d67e", "#bd3592", "#c42120", "#570013"]
              }
            }
          }
        },
        {
          "data": {"name": "nights"},
          "mark": {"type": "rule", "strokeWidth": 2.5, "color": "black"},
          "encoding": {
            "x": {"field": "start", "type": "quantitative", "axis": null},
            "x2": {"field": "end"},
            "y": {"datum": 1.02, "type": "quantitative", "axis": {"orient": "right", "title": "RNA", "labels": false, "ticks": false, "domain": false, "titleAngle": 90, "titlePadding": 3, "titleFontSize": 15}}
          }
        },
        {
          "data": {"name": "nights"},
          "mark": {"type": "rule", "strokeWidth": 4, "color": "black"},
          "encoding": {
            "x": {"field": "start", "type": "quantitative", "axis": null},
            "x2": {"field": "end"},
            "y": {"datum": -0.019, "type": "quantitative", "axis": null}
          }
        }
      ],
      "resolve": {"axis": {"x": "independent", "y": "independent"}}
    }
  ]
}
